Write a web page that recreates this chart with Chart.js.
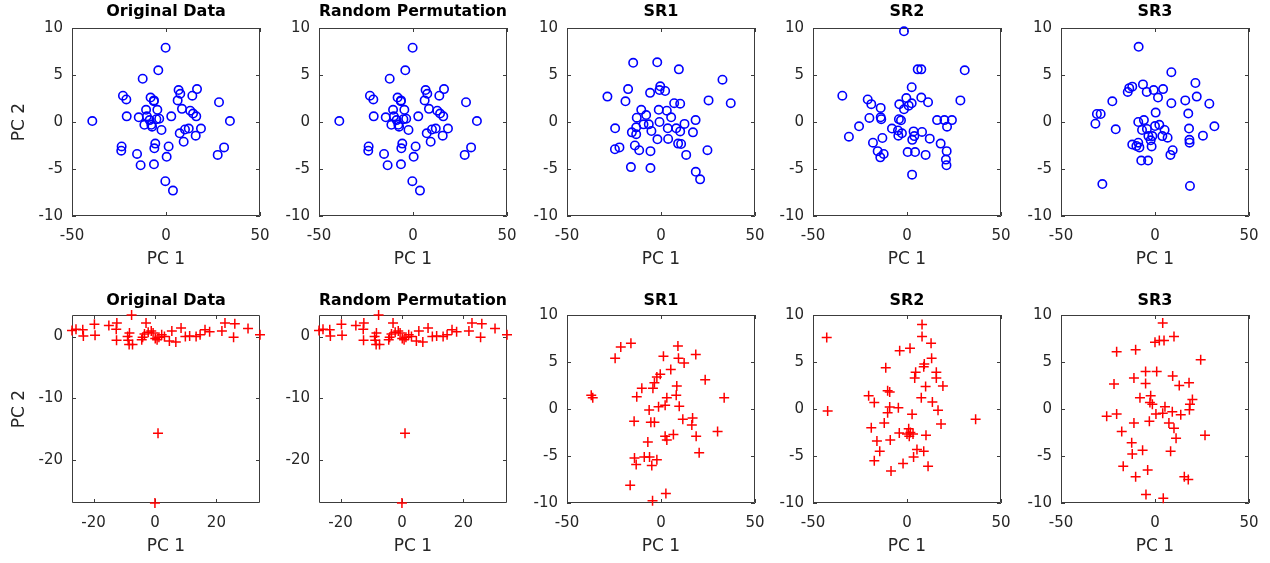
<!DOCTYPE html>
<html>
<head>
<meta charset="utf-8">
<script src="https://cdn.jsdelivr.net/npm/chart.js@4.4.0/dist/chart.umd.min.js"></script>
<style>
  body { margin: 0; background: #fff; width: 1270px; height: 563px; position: relative; overflow: hidden; }
  canvas { position: absolute; }
</style>
</head>
<body>
<script>
// PCA scores [PC1, PC2] for each sample
const origTop = [
  [-39.2, 0.1], [-0.2, 7.9], [-4.1, 5.5], [-12.4, 4.6], [-22.9, 2.8], [-21.1, 2.4], [-20.9, 0.6],
  [-14.5, 0.5], [-10.6, 1.3], [-8.2, 2.6], [-6.4, 2.3], [-4.6, 1.3], [-10.2, 0.6], [-11.5, -0.3],
  [-7.4, -0.5], [-5.1, 0.3], [-3.6, 0.35], [-2.4, -0.85], [2.8, 0.6], [6.7, 3.4], [7.6, 3.0],
  [6.2, 2.3], [14.0, 2.8], [16.5, 3.5], [28.2, 2.1], [34.0, 0.1], [8.5, 1.4], [12.9, 1.2],
  [14.4, 0.9], [16.1, 0.6], [18.6, -0.7], [15.8, -1.45], [12.1, -0.7], [10.1, -0.8], [7.3, -1.2],
  [9.4, -2.1], [1.4, -2.6], [0.35, -3.7], [-5.7, -2.3], [-6.2, -2.8], [-23.6, -2.6], [-23.8, -3.05],
  [-15.4, -3.4], [-13.5, -4.6], [-6.4, -4.5], [-0.35, -6.3], [3.7, -7.3], [27.5, -3.5], [30.9, -2.7],
  [-8.7, 0.2], [-6.5, 2.2], [-7.8, -0.3]
];
// permuting the rows leaves the score cloud unchanged
const permTop = origTop;
const sr1Top = [
  [-14.8, 6.3], [-2.0, 6.35], [9.5, 5.6], [32.7, 4.5], [37.1, 2.0], [25.3, 2.3], [-28.5, 2.7],
  [-17.5, 3.5], [-18.9, 2.2], [-5.8, 3.1], [-0.4, 3.8], [-0.8, 3.4], [2.2, 3.3], [7.0, 2.0],
  [10.2, 1.95], [-10.5, 1.3], [-7.9, 0.74], [-12.9, 0.46], [-9.3, -0.25], [-6.5, -0.25], [-1.2, 1.3],
  [3.1, 1.2], [5.4, 0.5], [-0.8, 0.0], [-5.1, -0.96], [3.6, -0.67], [8.1, -0.67], [12.5, -0.2],
  [18.4, 0.2], [17.0, -1.1], [10.2, -1.0], [-24.4, -0.67], [-15.5, -1.1], [-13.2, -0.57], [-13.2, -1.3],
  [-1.9, -1.84], [3.8, -1.8], [9.1, -2.3], [10.7, -2.34], [-13.9, -2.5], [-11.6, -3.0], [-5.6, -3.1],
  [-24.5, -2.9], [-22.1, -2.7], [13.4, -3.5], [24.7, -3.0], [-16.0, -4.8], [-5.6, -4.9], [18.5, -5.3],
  [20.8, -6.1]
];
const sr2Top = [
  [-1.6, 9.65], [5.7, 5.6], [7.6, 5.6], [30.7, 5.5], [-34.4, 2.8], [-20.9, 2.4], [-19.0, 1.9],
  [-14.0, 1.5], [-20.0, 0.43], [-14.0, 0.5], [-13.7, 0.3], [-25.5, -0.46], [-30.9, -1.56], [-18.1, -2.2],
  [-13.1, -1.7], [-15.6, -3.1], [-14.2, -3.76], [-12.4, -3.4], [2.5, 3.7], [-0.35, 2.55], [-4.1, 1.88],
  [-1.6, 1.35], [0.9, 1.74], [2.5, 1.99], [7.6, 2.6], [11.2, 2.1], [28.4, 2.3], [-4.3, 0.3],
  [-3.2, 0.18], [-8.0, -0.7], [-4.8, -0.9], [-4.6, -1.45], [-2.7, -1.2], [3.5, -1.0], [3.9, -1.5],
  [2.8, -1.9], [8.0, -1.06], [12.1, -1.77], [16.0, 0.2], [19.9, 0.2], [23.9, 0.2], [21.3, -0.5],
  [17.9, -2.3], [21.1, -3.1], [20.7, -4.0], [21.0, -4.6], [0.35, -3.2], [4.3, -3.2], [9.9, -3.5],
  [2.7, -5.6]
];
const sr3Top = [
  [-8.7, 8.0], [8.7, 5.3], [21.5, 4.15], [22.2, 2.7], [28.9, 1.95], [16.1, 2.3], [8.7, 2.0],
  [-13.7, 3.6], [-12.1, 3.76], [-14.5, 3.2], [-6.4, 4.0], [-4.4, 3.2], [-0.7, 3.4], [4.3, 3.5],
  [1.6, 2.6], [-22.7, 2.2], [-30.9, 0.85], [-28.9, 0.85], [-31.7, -0.18], [-20.9, -0.78], [0.35, 1.0],
  [17.7, 0.9], [31.6, -0.46], [25.5, -1.45], [18.1, -0.7], [18.3, -1.9], [18.4, -2.2], [-8.9, 0.0],
  [-5.9, 0.2], [-6.9, -0.85], [-4.3, -0.74], [0.0, -0.43], [2.3, -0.3], [5.1, -0.85], [6.7, -1.67],
  [3.9, -1.5], [-3.5, -1.5], [-1.4, -1.5], [-2.3, -1.95], [-1.8, -2.6], [-12.1, -2.4], [-9.9, -2.55],
  [-8.3, -2.7], [-8.9, -2.2], [9.4, -3.0], [8.2, -3.5], [-7.3, -4.1], [-3.7, -4.1], [-28.0, -6.6],
  [18.6, -6.8]
];

const origBottom = [
  [-27.0, 1.0], [-25.7, 1.2], [-23.5, 1.1], [-23.3, 0.1], [-19.7, 2.0], [-19.5, 0.2], [-15.0, 1.8],
  [-12.4, 2.2], [-12.6, 1.2], [-12.5, -0.6], [-7.6, 3.5], [-8.3, 0.6], [-8.9, 0.0], [-8.7, -0.6],
  [-7.3, -1.3], [-8.4, -1.3], [-4.3, -0.5], [-4.0, -0.1], [-3.4, 0.4], [-2.9, 2.2], [-2.2, 0.7],
  [-1.2, 0.9], [-0.6, 0.6], [0.1, -0.3], [0.7, -0.5], [1.3, -0.1], [2.2, 0.3], [3.1, 0.0],
  [4.7, -0.7], [5.5, 0.9], [6.8, -0.9], [8.5, 1.4], [9.9, 0.0], [11.3, 0.1], [13.4, 0.0],
  [14.7, 0.3], [16.3, 1.1], [17.8, 0.8], [21.8, 0.9], [22.8, 2.2], [26.0, 2.1], [25.6, -0.1],
  [30.3, 1.3], [34.2, 0.3], [1.0, -15.7], [0.0, -27.0]
];
const permBottom = origBottom;
const sr1Bottom = [
  [-37.1, 1.45], [-36.3, 1.2], [-24.4, 5.4], [-21.4, 6.6], [-16.0, 7.0], [9.0, 6.7], [1.3, 5.6],
  [9.3, 5.4], [12.3, 4.9], [18.5, 5.8], [5.2, 4.2], [-0.4, 3.7], [-2.2, 3.4], [-3.5, 2.8],
  [-4.3, 2.2], [-10.2, 2.2], [-12.9, 1.3], [8.4, 2.45], [8.1, 1.45], [3.1, 1.2], [2.2, 0.4],
  [-1.3, 0.25], [-6.3, -0.1], [9.7, 0.3], [23.5, 3.1], [33.6, 1.2], [-14.3, -1.3], [-5.4, -1.4],
  [-3.5, -1.4], [11.6, -1.1], [16.8, -0.95], [16.4, -1.7], [30.1, -2.4], [18.7, -2.9], [2.2, -2.9],
  [3.1, -3.3], [6.6, -2.7], [-7.0, -3.5], [20.3, -4.65], [-14.1, -5.2], [-13.2, -5.9], [-8.9, -5.1],
  [-6.1, -5.1], [-2.2, -5.4], [-4.9, -6.0], [-16.4, -8.1], [-4.5, -9.75], [2.6, -9.0]
];
const sr2Bottom = [
  [-42.7, 7.6], [-42.2, -0.2], [8.0, 9.0], [8.0, 7.7], [12.8, 7.0], [-3.9, 6.2], [1.6, 6.45],
  [13.1, 5.4], [9.2, 4.8], [8.9, 4.5], [-11.3, 4.4], [4.6, 3.9], [4.1, 3.3], [15.6, 3.9],
  [15.6, 3.3], [19.1, 2.45], [9.9, 2.4], [-10.3, 1.95], [-9.2, 1.8], [-20.4, 1.4], [-17.4, 0.7],
  [7.6, 1.2], [13.5, 0.75], [16.5, -0.14], [-9.2, 0.2], [-10.3, -0.4], [-4.6, 0.14], [2.7, -0.57],
  [-12.1, -1.5], [-19.0, -2.0], [18.1, -1.6], [36.5, -1.1], [-4.1, -2.55], [0.9, -2.1], [1.8, -2.5],
  [0.0, -2.66], [3.2, -2.66], [1.2, -2.9], [-8.9, -3.3], [-16.0, -3.4], [10.1, -2.8], [-14.5, -4.5],
  [5.3, -4.3], [8.9, -4.5], [-17.4, -5.5], [3.5, -5.1], [-2.1, -5.8], [11.2, -6.1], [-8.5, -6.6]
];
const sr3Bottom = [
  [4.1, 9.15], [10.1, 7.7], [0.0, 7.1], [2.3, 7.3], [4.8, 7.3], [-20.4, 6.1], [-10.3, 6.3],
  [24.3, 5.25], [-5.0, 4.0], [0.9, 4.0], [9.4, 3.5], [-11.2, 3.3], [-5.0, 2.7], [-21.8, 2.66],
  [12.9, 2.5], [18.1, 2.8], [19.9, 1.0], [18.6, 0.5], [18.3, -0.07], [-8.0, 1.2], [-2.3, 1.4],
  [-1.4, 0.5], [-2.7, 0.7], [5.3, 0.25], [4.1, -0.46], [9.2, -0.3], [13.7, -0.6], [0.5, -0.53],
  [-25.7, -0.78], [-20.4, -0.53], [-11.2, -1.5], [-3.0, -1.3], [7.4, -1.5], [10.1, -2.06], [11.2, -3.1],
  [-17.7, -2.4], [-12.4, -3.6], [-12.1, -4.8], [-6.6, -4.4], [8.3, -4.5], [26.6, -2.8], [-16.9, -6.1],
  [-3.9, -6.5], [-10.3, -7.2], [15.6, -7.2], [17.7, -7.5], [-4.8, -9.1], [4.4, -9.5]
];

const titles = ['Original Data', 'Random Permutation', 'SR1', 'SR2', 'SR3'];
const topData = [origTop, permTop, sr1Top, sr2Top, sr3Top];
const bottomData = [origBottom, permBottom, sr1Bottom, sr2Bottom, sr3Bottom];

// tick labels
const wideTicksX = [-50, 0, 50];
const wideTicksY = [-10, -5, 0, 5, 10];
const tightTicksX = [-20, 0, 20];
const tightTicksY = [-20, -10, 0];

// layout
const colLeft = [72, 319, 567, 813, 1061];
const AXES = 188;
const TITLE_H = 28;
const XAXIS_H = 60;
const PAD_R = 24;
const TICK = 4;
const ink = '#262626';
const family = '"DejaVu Sans", sans-serif';

// MATLAB style box with inward ticks on all four sides
const boxPlugin = {
  id: 'axesBox',
  beforeDatasetsDraw(chart) {
    const { ctx, chartArea: a, scales: { x, y } } = chart;
    ctx.save();
    ctx.strokeStyle = '#3c3c3c';
    ctx.lineWidth = 1;
    ctx.beginPath();
    ctx.rect(a.left + 0.5, a.top + 0.5, a.right - a.left - 1, a.bottom - a.top - 1);
    x.ticks.forEach(t => {
      const px = Math.round(x.getPixelForValue(t.value)) + 0.5;
      ctx.moveTo(px, a.bottom); ctx.lineTo(px, a.bottom - TICK);
      ctx.moveTo(px, a.top); ctx.lineTo(px, a.top + TICK);
    });
    y.ticks.forEach(t => {
      const py = Math.round(y.getPixelForValue(t.value)) + 0.5;
      ctx.moveTo(a.left, py); ctx.lineTo(a.left + TICK, py);
      ctx.moveTo(a.right, py); ctx.lineTo(a.right - TICK, py);
    });
    ctx.stroke();
    ctx.restore();
  }
};

function makePanel(row, col, points) {
  const axesTop = row === 0 ? 28 : 315;
  const yw = col === 0 ? 72 : 50;
  const tight = row === 1 && col < 2;
  const xs = points.map(p => p[0]);
  const ys = points.map(p => p[1]);

  const canvas = document.createElement('canvas');
  canvas.width = yw + AXES + PAD_R;
  canvas.height = TITLE_H + AXES + XAXIS_H;
  canvas.style.left = (colLeft[col] - yw) + 'px';
  canvas.style.top = (axesTop - TITLE_H) + 'px';
  document.body.appendChild(canvas);

  const ticksX = tight ? tightTicksX : wideTicksX;
  const ticksY = tight ? tightTicksY : wideTicksY;
  const tickFont = { family, size: 15, lineHeight: 1.2 };

  new Chart(canvas, {
    type: 'scatter',
    data: {
      datasets: [{
        data: points.map(p => ({ x: p[0], y: p[1] })),
        pointStyle: row === 0 ? 'circle' : 'cross',
        pointRadius: row === 0 ? 4.2 : 5,
        borderColor: row === 0 ? '#0000ff' : '#ff0000',
        backgroundColor: 'rgba(0,0,0,0)',
        pointBorderWidth: row === 0 ? 1.6 : 1.5,
        clip: false
      }]
    },
    options: {
      responsive: false,
      animation: false,
      devicePixelRatio: 1,
      layout: { padding: { left: 0, top: 0, bottom: 0, right: PAD_R } },
      plugins: {
        legend: { display: false },
        tooltip: { enabled: false },
        title: {
          display: true,
          fullSize: false,
          text: titles[col],
          color: '#000',
          font: { family, size: 16, weight: 'bold', lineHeight: 1.25 },
          padding: row === 0 ? { top: 2, bottom: 6 } : { top: 4, bottom: 4 }
        }
      },
      scales: {
        x: {
          type: 'linear',
          min: tight ? Math.min(...xs) : -50,
          max: tight ? Math.max(...xs) : 50,
          afterBuildTicks: s => { s.ticks = ticksX.map(v => ({ value: v })); },
          afterFit: s => { s.height = XAXIS_H; },
          grid: { display: false, drawTicks: false },
          border: { display: false },
          ticks: { padding: 11, color: ink, font: tickFont, autoSkip: false, maxRotation: 0, callback: v => String(v) },
          title: { display: true, text: 'PC 1', color: ink, font: { family, size: 17, lineHeight: 1.2 }, padding: { top: 0, bottom: 6 } }
        },
        y: {
          type: 'linear',
          min: tight ? Math.min(...ys) : -10,
          max: tight ? Math.max(...ys) : 10,
          afterBuildTicks: s => { s.ticks = ticksY.map(v => ({ value: v })); },
          afterFit: s => { s.width = yw; },
          grid: { display: false, drawTicks: false },
          border: { display: false },
          ticks: { padding: 9, color: ink, font: tickFont, autoSkip: false, callback: v => String(v) },
          title: { display: col === 0, text: 'PC 2', color: ink, font: { family, size: 17, lineHeight: 1.2 }, padding: { top: 9.5, bottom: 0 } }
        }
      }
    },
    plugins: [boxPlugin]
  });
}

topData.forEach((pts, i) => makePanel(0, i, pts));
bottomData.forEach((pts, i) => makePanel(1, i, pts));
</script>
</body>
</html>
